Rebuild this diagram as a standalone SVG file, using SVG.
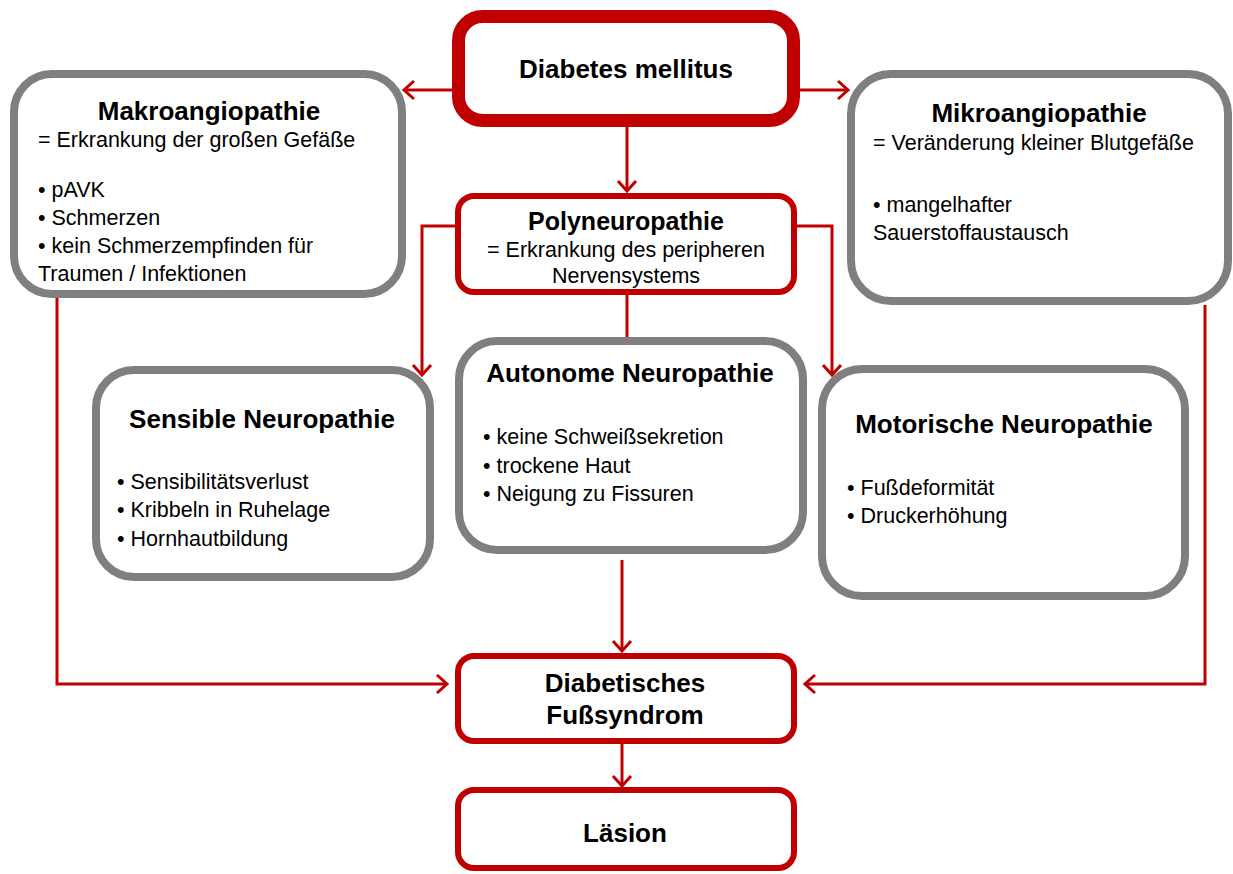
<svg xmlns="http://www.w3.org/2000/svg" width="1233" height="874" viewBox="0 0 1233 874">
<style>
.red{fill:#fff;stroke:#C00000;}
.gray{fill:#fff;stroke:#7F7F7F;stroke-width:8;}
.t{font-family:"Liberation Sans",Arial,sans-serif;font-weight:bold;font-size:26px;fill:#000;text-anchor:middle;}
.s{font-family:"Liberation Sans",Arial,sans-serif;font-size:21.5px;fill:#000;}
.c{text-anchor:middle;}
.con{fill:none;stroke:#C00000;stroke-width:3;}
</style>
<defs>
<marker id="arr" markerUnits="userSpaceOnUse" markerWidth="24" markerHeight="24" viewBox="0 0 24 24" refX="14" refY="12" orient="auto">
<path d="M4 3 L14 12 L4 21" fill="none" stroke="#C00000" stroke-width="3"/>
</marker>
</defs>
<rect width="1233" height="874" fill="#fff"/>
<g id="connectors">
<path class="con" d="M452 90 L404 90" marker-end="url(#arr)"/>
<path class="con" d="M800 90 L848 90" marker-end="url(#arr)"/>
<path class="con" d="M627 127 L627 191" marker-end="url(#arr)"/>
<path class="con" d="M455 226 L422 226 L422 375" marker-end="url(#arr)"/>
<path class="con" d="M797 226 L832 226 L832 375" marker-end="url(#arr)"/>
<path class="con" d="M627 295 L627 337"/>
<path class="con" d="M622 560 L622 651" marker-end="url(#arr)"/>
<path class="con" d="M57 298 L57 684 L447 684" marker-end="url(#arr)"/>
<path class="con" d="M1205 305 L1205 684 L805 684" marker-end="url(#arr)"/>
<path class="con" d="M622 744 L622 786" marker-end="url(#arr)"/>
</g>
<g id="diabetes">
<rect class="red" x="458.5" y="16.5" width="335" height="104" rx="24" stroke-width="13"/>
<text class="t" x="626" y="78">Diabetes mellitus</text>
</g>
<g id="makro">
<rect class="gray" x="14" y="74" width="388" height="220" rx="38"/>
<text class="t" x="209" y="120">Makroangiopathie</text>
<text class="s" x="38" y="147">= Erkrankung der großen Gefäße</text>
<text class="s" x="38" y="197">• pAVK</text>
<text class="s" x="38" y="225">• Schmerzen</text>
<text class="s" x="38" y="253">• kein Schmerzempfinden für</text>
<text class="s" x="38" y="281">Traumen / Infektionen</text>
</g>
<g id="mikro">
<rect class="gray" x="851" y="74" width="377" height="227" rx="40"/>
<text class="t" x="1039" y="122">Mikroangiopathie</text>
<text class="s" x="873" y="150">= Veränderung kleiner Blutgefäße</text>
<text class="s" x="873" y="212">• mangelhafter</text>
<text class="s" x="873" y="240">Sauerstoffaustausch</text>
</g>
<g id="poly">
<rect class="red" x="458" y="196" width="336" height="96" rx="16" stroke-width="6"/>
<text class="t" x="626" y="230" style="font-size:25px">Polyneuropathie</text>
<text class="s c" x="626" y="257">= Erkrankung des peripheren</text>
<text class="s c" x="626" y="283">Nervensystems</text>
</g>
<g id="sensible">
<rect class="gray" x="96" y="370" width="334" height="207" rx="38"/>
<text class="t" x="262" y="428">Sensible Neuropathie</text>
<text class="s" x="117" y="489">• Sensibilitätsverlust</text>
<text class="s" x="117" y="517">• Kribbeln in Ruhelage</text>
<text class="s" x="117" y="546">• Hornhautbildung</text>
</g>
<g id="autonome">
<rect class="gray" x="459" y="341" width="344" height="209" rx="38"/>
<text class="t" x="630" y="382">Autonome Neuropathie</text>
<text class="s" x="483" y="444">• keine Schweißsekretion</text>
<text class="s" x="483" y="473">• trockene Haut</text>
<text class="s" x="483" y="501">• Neigung zu Fissuren</text>
</g>
<g id="motorische">
<rect class="gray" x="822" y="369" width="363" height="227" rx="40"/>
<text class="t" x="1004" y="433">Motorische Neuropathie</text>
<text class="s" x="847" y="495">• Fußdeformität</text>
<text class="s" x="847" y="523">• Druckerhöhung</text>
</g>
<g id="dfs">
<rect class="red" x="458" y="656" width="336" height="85" rx="16" stroke-width="6"/>
<text class="t" x="625" y="692">Diabetisches</text>
<text class="t" x="625" y="724">Fußsyndrom</text>
</g>
<g id="laesion">
<rect class="red" x="458" y="790" width="336" height="78" rx="16" stroke-width="6"/>
<text class="t" x="625" y="842">Läsion</text>
</g>
</svg>
